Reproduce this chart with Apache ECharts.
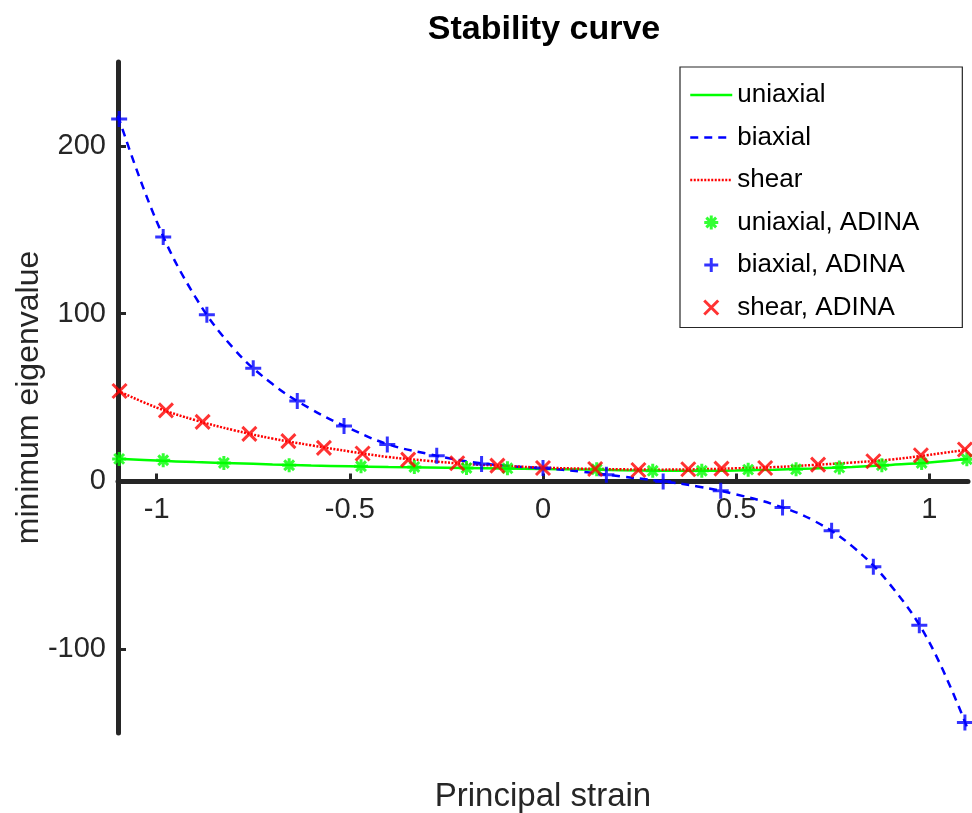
<!DOCTYPE html>
<html>
<head>
<meta charset="utf-8">
<script src="https://cdn.jsdelivr.net/npm/echarts@6/dist/echarts.min.js"></script>
<style>
html,body{margin:0;padding:0;background:#fff;}
#chart{width:972px;height:813px;}
</style>
</head>
<body>
<div id="chart"></div>
<script>
// ---- data ----
var lineStrain    = [-1.1, -1.0, -0.9, -0.8, -0.7, -0.6, -0.5, -0.4, -0.3, -0.2, -0.1, 0, 0.1, 0.2, 0.3, 0.4, 0.5, 0.6, 0.7, 0.8, 0.9, 1.0, 1.1];
var uniaxialLine  = [13.5, 12.4, 11.5, 10.8, 10.1, 9.5, 9.0, 8.6, 8.3, 8.0, 7.7, 7.4, 7.1, 6.7, 6.4, 6.3, 6.5, 7.0, 7.7, 8.6, 9.8, 11.2, 13.3];
var biaxialLine   = [218, 155, 110, 79, 58, 43, 31.5, 22, 16.5, 12, 9.4, 7.8, 5.8, 3.0, 0.3, -3.0, -7.8, -14, -23.3, -38.6, -62, -96, -148];
var shearLine     = [54, 44, 36.5, 30.5, 25.5, 21.5, 17.8, 14.5, 12.3, 10.4, 9.2, 8.2, 7.6, 7.2, 7.0, 7.2, 7.8, 8.5, 9.8, 11.2, 13.0, 15.8, 19.0];

var uniaxialAdinaX = [-1.097, -0.983, -0.826, -0.657, -0.471, -0.333, -0.198, -0.092, 0.139, 0.284, 0.411, 0.531, 0.655, 0.767, 0.877, 0.980, 1.097];
var uniaxialAdinaY = [13.4, 12.6, 11.0, 9.6, 9.0, 8.6, 8.0, 7.8, 7.2, 6.3, 6.3, 7.0, 7.2, 8.2, 9.6, 11.0, 13.2];

var biaxialAdinaX = [-1.097, -0.983, -0.870, -0.750, -0.636, -0.515, -0.403, -0.275, -0.159, 0, 0.164, 0.311, 0.460, 0.620, 0.747, 0.855, 0.974, 1.092];
var biaxialAdinaY = [216, 145.7, 99.4, 67.5, 47.9, 33, 22, 15.3, 10.4, 8, 4, 0, -5.6, -15.6, -29.5, -50.9, -85.8, -143.7];

var shearAdinaX = [-1.096, -0.976, -0.881, -0.760, -0.659, -0.567, -0.467, -0.349, -0.222, -0.118, 0, 0.135, 0.247, 0.376, 0.462, 0.575, 0.712, 0.855, 0.978, 1.092];
var shearAdinaY = [53.9, 42.3, 35.5, 28.3, 24, 20, 16.6, 13, 10.8, 9.4, 8, 7.4, 6.8, 7.2, 7.6, 8, 10, 12, 15.6, 19];

var xTicks = [-1, -0.5, 0, 0.5, 1];
var yTicks = [-100, 0, 100, 200];
var seriesNames = ['uniaxial', 'biaxial', 'shear', 'uniaxial, ADINA', 'biaxial, ADINA', 'shear, ADINA'];

function zip(xs, ys) { return xs.map(function (x, i) { return [x, ys[i]]; }); }

var FONT = 'Liberation Sans, Arial, Helvetica, sans-serif';
var AX = '#262626';
var GREEN = '#00ff00', BLUE = '#0000ff', RED = '#ff0000';
var PLUS = 'path://M0,5L10,5M5,0L5,10';
var CROSS = 'path://M0,0L10,10M10,0L0,10';
var STAR = 'path://M0,5L10,5M5,0L5,10M1.5,1.5L8.5,8.5M8.5,1.5L1.5,8.5';

var GRID_TOP = 62, GRID_BOTTOM = 80, Y_MIN = -150, Y_MAX = 250;
var plotH = 813 - GRID_TOP - GRID_BOTTOM;
// shift the x axis (line, ticks, labels) up from the grid bottom to y = 0
var xAxisOffset = -plotH * (0 - Y_MIN) / (Y_MAX - Y_MIN);

var chart = echarts.init(document.getElementById('chart'), null, {renderer: 'canvas'});
chart.setOption({
  animation: false,
  backgroundColor: '#ffffff',
  title: {
    text: 'Stability curve',
    left: 539, top: 8, textAlign: 'center',
    textStyle: {fontFamily: FONT, fontSize: 34, fontWeight: 'bold', color: '#000'}
  },
  legend: {
    orient: 'vertical',
    left: 680, top: 67,
    padding: [15, 43, 7, 9],
    borderColor: '#262626', borderWidth: 1.2, backgroundColor: '#fff',
    itemWidth: 42, itemHeight: 14, itemGap: 16.5,
    textStyle: {fontFamily: FONT, fontSize: 26, color: '#000'},
    data: [
      {name: seriesNames[0], icon: 'line', itemStyle: {color: GREEN, borderColor: GREEN, borderWidth: 2.5, borderType: 'solid'}},
      {name: seriesNames[1], icon: 'line', itemStyle: {color: BLUE, borderColor: BLUE, borderWidth: 2.5, borderType: [8, 6]}},
      {name: seriesNames[2], icon: 'line', itemStyle: {color: RED, borderColor: RED, borderWidth: 2.5, borderType: [2, 1.5]}},
      {name: seriesNames[3], icon: STAR, itemStyle: {color: 'none', borderColor: GREEN, borderWidth: 3}},
      {name: seriesNames[4], icon: PLUS, itemStyle: {color: 'none', borderColor: BLUE, borderWidth: 3}},
      {name: seriesNames[5], icon: CROSS, itemStyle: {color: 'none', borderColor: RED, borderWidth: 3}}
    ]
  },
  grid: {left: 118, right: 4, top: GRID_TOP, bottom: GRID_BOTTOM, containLabel: false, outerBoundsMode: 'none'},
  xAxis: {
    type: 'value', min: -1.1, max: 1.1, offset: xAxisOffset,
    name: 'Principal strain', nameLocation: 'middle', nameGap: 299, nameMoveOverlap: false,
    nameTextStyle: {fontFamily: FONT, fontSize: 33, color: AX},
    axisLine: {onZero: false, lineStyle: {color: AX, width: 5}},
    axisTick: {inside: true, length: 8, lineStyle: {color: AX, width: 3}, customValues: xTicks},
    axisLabel: {fontFamily: FONT, fontSize: 29, color: AX, margin: 14, customValues: xTicks,
      formatter: function (v) { return String(v); }},
    splitLine: {show: false}
  },
  yAxis: {
    type: 'value', min: Y_MIN, max: Y_MAX,
    name: 'minimum eigenvalue', nameLocation: 'middle', nameGap: 73, nameRotate: 90, nameMoveOverlap: false,
    nameTextStyle: {fontFamily: FONT, fontSize: 32, color: AX},
    axisLine: {onZero: false, lineStyle: {color: AX, width: 5}},
    axisTick: {inside: true, length: 8, lineStyle: {color: AX, width: 3}, customValues: yTicks},
    axisLabel: {fontFamily: FONT, fontSize: 29, color: AX, margin: 12, customValues: yTicks},
    splitLine: {show: false}
  },
  series: [
    {name: seriesNames[0], type: 'line', data: zip(lineStrain, uniaxialLine), smooth: 0.4, showSymbol: false, symbol: 'none',
     lineStyle: {color: GREEN, width: 2.5, type: 'solid'}, itemStyle: {color: GREEN}, z: 2},
    {name: seriesNames[1], type: 'line', data: zip(lineStrain, biaxialLine), smooth: 0.4, showSymbol: false, symbol: 'none',
     lineStyle: {color: BLUE, width: 2.5, type: [8, 6]}, itemStyle: {color: BLUE}, z: 2},
    {name: seriesNames[2], type: 'line', data: zip(lineStrain, shearLine), smooth: 0.4, showSymbol: false, symbol: 'none',
     lineStyle: {color: RED, width: 2.5, type: [2, 1.5]}, itemStyle: {color: RED}, z: 2},
    {name: seriesNames[3], type: 'scatter', data: zip(uniaxialAdinaX, uniaxialAdinaY), symbol: STAR, symbolSize: 14, clip: false,
     itemStyle: {color: 'none', borderColor: GREEN, borderWidth: 3}, z: 3},
    {name: seriesNames[4], type: 'scatter', data: zip(biaxialAdinaX, biaxialAdinaY), symbol: PLUS, symbolSize: 16, clip: false,
     itemStyle: {color: 'none', borderColor: BLUE, borderWidth: 3}, z: 3},
    {name: seriesNames[5], type: 'scatter', data: zip(shearAdinaX, shearAdinaY), symbol: CROSS, symbolSize: 14, clip: false,
     itemStyle: {color: 'none', borderColor: RED, borderWidth: 3}, z: 3}
  ]
});
</script>
</body>
</html>
